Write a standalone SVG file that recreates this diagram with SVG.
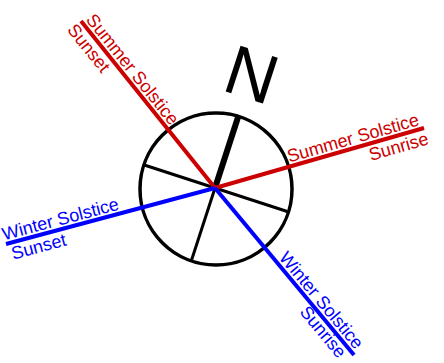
<svg xmlns="http://www.w3.org/2000/svg" width="444" height="363" viewBox="0 0 444 363">
<style>
.lbl{font-family:"Liberation Sans",Arial,sans-serif;font-size:18px}
.red{fill:#cc0000}
.blue{fill:#0000ff}
.spoke{stroke:#000;stroke-width:3;fill:none}
</style>
<rect width="444" height="363" fill="#fff"/>
<g id="compass">
<circle cx="216" cy="189" r="76" fill="none" stroke="#000" stroke-width="3.5"/>
<g transform="translate(215,188) rotate(18)">
<line class="spoke" x1="0" y1="0" x2="-76" y2="0"/>
<line class="spoke" x1="0" y1="0" x2="76" y2="0"/>
<line class="spoke" x1="0" y1="0" x2="0" y2="76"/>
<line x1="0" y1="0" x2="0" y2="-76" stroke="#000" stroke-width="6"/>
<text x="0" y="-95" text-anchor="middle" font-family="Liberation Sans,Arial,sans-serif" font-size="70" fill="#000">N</text>
</g>
</g>
<g id="connectors" stroke-width="4" fill="none">
<line x1="81" y1="21" x2="215" y2="188" stroke="#cc0000"/>
<line x1="215" y1="188" x2="424" y2="128" stroke="#cc0000"/>
<line x1="6" y1="244" x2="215" y2="188" stroke="#0000ff"/>
<line x1="215" y1="188" x2="354" y2="355" stroke="#0000ff"/>
</g>
<g id="summer-sunset" transform="translate(81,21) rotate(51.3)">
<text class="lbl red" x="2" y="-4">Summer Solstice</text>
<text class="lbl red" x="-2" y="17">Sunset</text>
</g>
<g id="summer-sunrise" transform="translate(424,128) rotate(-16)">
<text class="lbl red" x="-3" y="-4" text-anchor="end">Summer Solstice</text>
<text class="lbl red" x="1" y="17" text-anchor="end">Sunrise</text>
</g>
<g id="winter-sunset" transform="translate(6,244) rotate(-15)">
<text class="lbl blue" x="-1" y="-4">Winter Solstice</text>
<text class="lbl blue" x="3" y="17">Sunset</text>
</g>
<g id="winter-sunrise" transform="translate(354,355) rotate(50.2)">
<text class="lbl blue" x="-3" y="-4" text-anchor="end">Winter Solstice</text>
<text class="lbl blue" x="-7" y="15" text-anchor="end">Sunrise</text>
</g>
</svg>
